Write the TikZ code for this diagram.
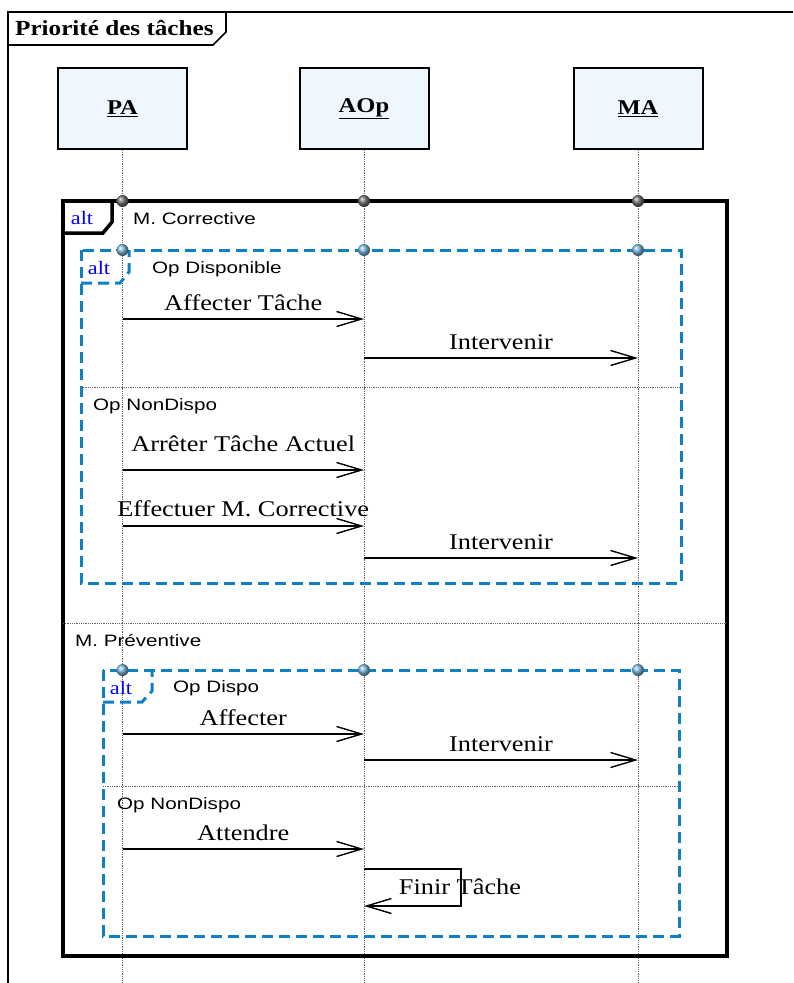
\documentclass[tikz,border=0pt]{standalone}
\usepackage{fontspec}
\usepackage{tikz}
\usetikzlibrary{arrows.meta,positioning,calc}
\setmainfont{Liberation Serif}
\newfontfamily\msgfont[FakeStretch=1.17]{Liberation Serif}
\newfontfamily\grdfont[FakeStretch=1.25]{Liberation Sans}
\definecolor{altblue}{RGB}{16,128,196}
\definecolor{boxfill}{RGB}{238,247,254}

\begin{document}
\begin{tikzpicture}[x=1pt, y=-1pt,
  obj/.style={draw, line width=2pt, fill=boxfill, minimum width=129pt, minimum height=81pt, font=\msgfont\fontsize{21}{24}\selectfont\bfseries},
  life/.style={draw=black!60, densely dotted, line width=0.8pt},
  msg/.style={line width=1.4pt, -{Straight Barb[length=25pt,width=15pt,line width=1.4pt]}},
  lbl/.style={font=\msgfont\fontsize{22.5}{24}\selectfont, above=#1, inner sep=0pt},
  grd/.style={font=\grdfont\fontsize{16.5}{18}\selectfont, anchor=west, inner sep=0pt},
  alttag/.style={font=\msgfont\fontsize{19}{20}\selectfont, text=blue, inner sep=0pt},
  sep/.style={draw=black!60, densely dotted, line width=0.8pt},
  frm/.style={line width=3.5pt},
  dfrm/.style={draw=altblue, line width=3pt, dash pattern=on 11pt off 6pt},
  dot/.style={circle, inner sep=0pt, minimum size=12pt, shading=ball, ball color=#1}]
\useasboundingbox (0,0) rectangle (793,983);
\draw[line width=1.6pt] (8,983) -- (8,12) -- (793,12);
\draw[line width=1.6pt] (8,45) -- (213,45) -- (226,32) -- (226,12);
\node[font=\msgfont\fontsize{21.5}{24}\selectfont\bfseries, anchor=west, inner sep=0pt] (title) at (15,28) {Priorité des tâches};
\node[obj] (PA) at (122.5,108.5) {\underline{PA}};
\node[obj] (AOp) at (364,108.5) {\underline{AOp}};
\node[obj] (MA) at (638,108.5) {\underline{MA}};
\foreach \o in {PA,AOp,MA} { \coordinate (\o-end) at (\o |- 0,983); \draw[life] (\o.south) -- (\o-end); }
\draw[frm] (63,201) rectangle (727,956);
\draw[frm] (63,233) -- (103,233) -- (112,222) -- (112,201);
\node[alttag] (alt1) at (82,218) {alt};
\node[grd] (corr) at (133,219) {M. Corrective};
\draw[sep] (63,623) -- (727,623);
\node[grd] (prev) at (75,640) {M. Préventive};
\draw[dfrm] (81,250) rectangle (681,583);
\draw[dfrm] (81,283) -- (120,283) -- (129,272) -- (129,250);
\node[alttag] (alt2) at (99,268) {alt};
\node[grd] (dispo1) at (152,269) {Op Disponible};
\draw[sep] (81,387) -- (681,387);
\node[grd] (ndispo1) at (93,406) {Op NonDispo};
\draw[dfrm] (103,670) rectangle (679,936);
\draw[dfrm] (103,702) -- (142,702) -- (152,691) -- (152,670);
\node[alttag] (alt3) at (121,688) {alt};
\node[grd] (dispo2) at (173,688) {Op Dispo};
\draw[sep] (103,786) -- (679,786);
\node[grd] (ndispo2) at (117,805) {Op NonDispo};
\foreach \s/\t/\y/\d/\txt in {PA/AOp/319/8/Affecter Tâche, AOp/MA/358/8/Intervenir, PA/AOp/470/18/Arrêter Tâche Actuel, PA/AOp/526/8/Effectuer M. Corrective, AOp/MA/558/8/Intervenir, PA/AOp/734/8/Affecter, AOp/MA/760/8/Intervenir, PA/AOp/849/8/Attendre} {
  \coordinate (s\y) at (\s |- 0,\y); \coordinate (t\y) at (\t |- 0,\y);
  \draw[msg] (s\y) -- node[lbl=\d pt]{\txt} (t\y); }
\coordinate (fin1) at (AOp |- 0,869); \coordinate (fin2) at (AOp |- 0,906);
\draw[msg] (fin1) -- ++(97,0) |- (fin2);
\node[font=\msgfont\fontsize{22.5}{24}\selectfont, inner sep=0pt] (finir) at (460,887) {Finir Tâche};
\foreach \o in {PA,AOp,MA} { \node[dot=black!55] at (\o |- 0,201) {}; \node[dot=altblue!55!white] at (\o |- 0,250) {}; \node[dot=altblue!55!white] at (\o |- 0,670) {}; }
\end{tikzpicture}
\end{document}
